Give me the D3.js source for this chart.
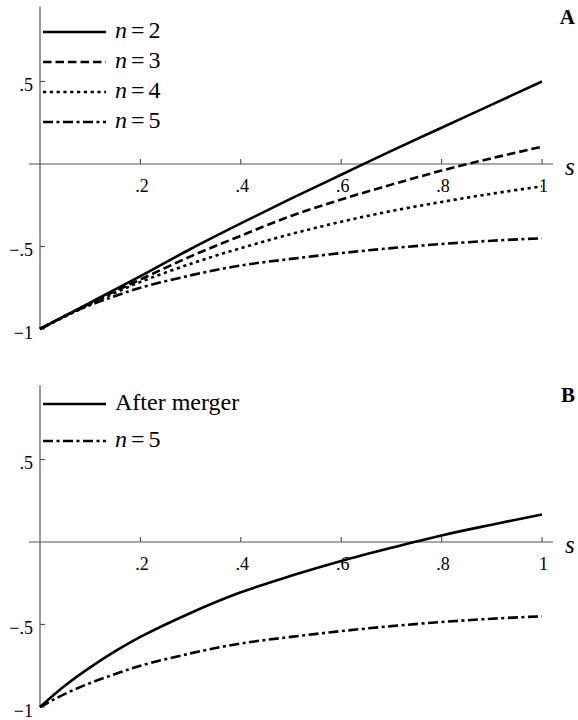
<!DOCTYPE html>
<html>
<head>
<meta charset="utf-8">
<script src="https://cdn.jsdelivr.net/npm/d3@7"></script>
<style>
  body { margin: 0; background: #fff; }
  text { font-family: "Liberation Serif", "DejaVu Serif", serif; }
</style>
</head>
<body>
<script>
const W = 578
const H = 720
const FONT = "Liberation Serif, DejaVu Serif, serif"

// s grid and curve values
const sVals  = [0, 0.05, 0.1, 0.15, 0.2, 0.3, 0.4, 0.5, 0.6, 0.7, 0.8, 0.9, 1]
const n2     = [-1, -0.92, -0.84, -0.76, -0.68, -0.515, -0.36, -0.21, -0.065, 0.08, 0.22, 0.36, 0.50]
const n3     = [-1, -0.92, -0.845, -0.77, -0.70, -0.56, -0.435, -0.315, -0.215, -0.125, -0.04, 0.035, 0.105]
const n4     = [-1, -0.925, -0.85, -0.78, -0.715, -0.605, -0.51, -0.425, -0.35, -0.285, -0.23, -0.18, -0.135]
const n5     = [-1, -0.92, -0.855, -0.80, -0.75, -0.675, -0.615, -0.575, -0.54, -0.51, -0.485, -0.465, -0.45]
const merger = [-1, -0.87, -0.76, -0.662, -0.575, -0.43, -0.305, -0.205, -0.115, -0.035, 0.04, 0.105, 0.167]

const xTicks = [0.2, 0.4, 0.6, 0.8, 1]
const xTickLabels = [".2", ".4", ".6", ".8", "1"]
const yTicks = [0.5, -0.5, -1]
const yTickLabels = [".5", "\u2212.5", "\u22121"]

const dashes = {
    solid: null,
    dashed: "8.5,4",
    dotted: "3.2,3.6",
    dashdot: "10,3.5,3,3.5"
}

const svg = d3.select("body").append("svg")
    .attr("width", W)
    .attr("height", H)
    .attr("font-family", FONT)

const x = d3.scaleLinear().domain([0, 1]).range([40, 542])

// one panel: zero line at y0, -1 at y0 + 165
const drawPanel = (y0, yTop, series, legendRows, tag) => {
    const y = d3.scaleLinear().domain([-1, 0]).range([y0 + 165, y0])
    const g = svg.append("g")
    const axisColor = "#555"

    // axes
    g.append("line")
        .attr("x1", 29).attr("x2", 553)
        .attr("y1", y(0)).attr("y2", y(0))
        .attr("stroke", axisColor).attr("stroke-width", 1.2)
    g.append("line")
        .attr("x1", x(0)).attr("x2", x(0))
        .attr("y1", y(yTop)).attr("y2", y(-1))
        .attr("stroke", axisColor).attr("stroke-width", 1.2)

    g.selectAll(".xt").data(xTicks).enter().append("line")
        .attr("x1", d => x(d)).attr("x2", d => x(d))
        .attr("y1", y(0)).attr("y2", y(0) - 5)
        .attr("stroke", axisColor).attr("stroke-width", 1.2)
    g.selectAll(".xl").data(xTicks).enter().append("text")
        .attr("x", d => x(d) + 1.5)
        .attr("y", y(0) + 28)
        .attr("text-anchor", "middle")
        .attr("font-family", FONT)
        .attr("font-size", "18px")
        .text((d, i) => xTickLabels[i])

    g.selectAll(".yt").data(yTicks).enter().append("line")
        .attr("x1", x(0)).attr("x2", x(0) + 5)
        .attr("y1", d => y(d)).attr("y2", d => y(d))
        .attr("stroke", axisColor).attr("stroke-width", 1.2)
    g.selectAll(".yl").data(yTicks).enter().append("text")
        .attr("x", 33)
        .attr("y", d => y(d) + 9.5)
        .attr("text-anchor", "end")
        .attr("font-family", FONT)
        .attr("font-size", "18px")
        .text((d, i) => yTickLabels[i])

    g.append("text")
        .attr("x", 565).attr("y", y(0) + 11)
        .attr("font-family", FONT)
        .attr("font-size", "25px")
        .attr("font-style", "italic")
        .text("s")

    g.append("text")
        .attr("x", 575).attr("y", y0 - 140)
        .attr("text-anchor", "end")
        .attr("font-family", FONT)
        .attr("font-size", "21px")
        .attr("font-weight", "bold")
        .text(tag)

    // curves
    const line = d3.line()
        .x((d, i) => x(sVals[i]))
        .y(d => y(d))
        .curve(d3.curveCatmullRom)

    series.forEach(s => {
        g.append("path")
            .attr("d", line(s.values))
            .attr("fill", "none")
            .attr("stroke", "black")
            .attr("stroke-width", 2.6)
            .attr("stroke-dasharray", dashes[s.style])
    })

    // legend
    legendRows.forEach(r => {
        g.append("line")
            .attr("x1", 43).attr("x2", 106)
            .attr("y1", r.y).attr("y2", r.y)
            .attr("stroke", "black")
            .attr("stroke-width", 2.6)
            .attr("stroke-dasharray", dashes[r.style])
        const t = g.append("text")
            .attr("x", 115).attr("y", r.y + 6)
            .attr("font-family", FONT)
            .attr("font-size", "24px")
        if (r.n) {
            t.append("tspan").attr("font-style", "italic").text("n")
            t.append("tspan").attr("dx", 4).text("=")
            t.append("tspan").attr("dx", 4).text(r.n)
        } else {
            t.text(r.label)
        }
    })
}

drawPanel(164, 0.955, [
    { values: n2, style: "solid" },
    { values: n3, style: "dashed" },
    { values: n4, style: "dotted" },
    { values: n5, style: "dashdot" }
], [
    { y: 32, n: "2", style: "solid" },
    { y: 62, n: "3", style: "dashed" },
    { y: 92, n: "4", style: "dotted" },
    { y: 122, n: "5", style: "dashdot" }
], "A")

drawPanel(542, 0.95, [
    { values: merger, style: "solid" },
    { values: n5, style: "dashdot" }
], [
    { y: 404, label: "After merger", style: "solid" },
    { y: 441, n: "5", style: "dashdot" }
], "B")
</script>
</body>
</html>
